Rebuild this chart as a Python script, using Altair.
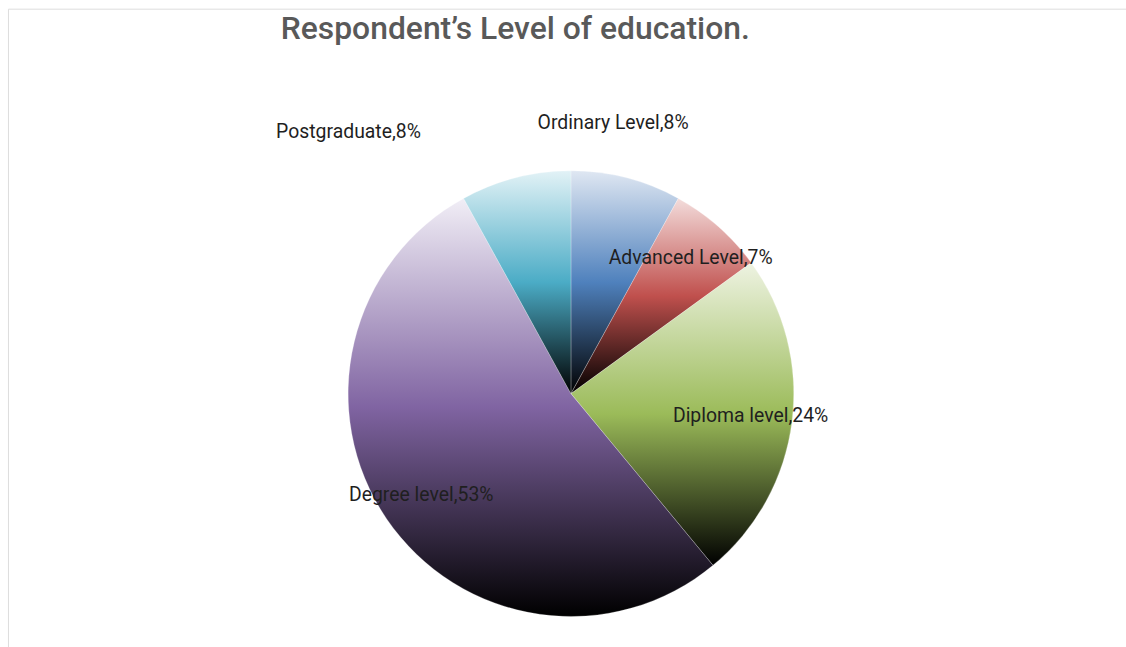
import altair as alt
import pandas as pd

categories = ["Ordinary Level", "Advanced Level", "Diploma level", "Degree level", "Postgraduate"]
values = [8, 7, 24, 53, 8]
order = [1, 2, 3, 4, 5]
base_colors = ["#4f81bd", "#c0504d", "#9bbb59", "#8064a2", "#4bacc6"]
light_colors = ["#dfe7f2", "#f3dcdb", "#eef3e2", "#f1eef6", "#e2f2f6"]

df = pd.DataFrame({"category": categories, "value": values, "order": order})
df["label"] = [f"{c},{v}%" for c, v in zip(categories, values)]

CX, CY = 566, 387  # pie centre inside the view
R = 224

base = (
    alt.Chart(df)
    .transform_joinaggregate(total="sum(value)")
    .transform_window(cum="sum(value)", sort=[alt.SortField("order")])
    .transform_calculate(
        start="(datum.cum - datum.value) / datum.total * 2 * PI",
        end="datum.cum / datum.total * 2 * PI",
        mid="(datum.cum - datum.value / 2) / datum.total * 2 * PI",
    )
)

layers = []
for cat, bc, lc in zip(categories, base_colors, light_colors):
    grad = alt.Gradient(
        gradient="linear", x1=0, x2=0, y1=0, y2=1,
        stops=[
            alt.GradientStop(color=lc, offset=0),
            alt.GradientStop(color=bc, offset=0.5),
            alt.GradientStop(color="#000000", offset=1),
        ],
    )
    layers.append(
        base.transform_filter(alt.datum.category == cat)
        .mark_arc(radius=R, color=grad, stroke="#ffffff", strokeWidth=0.4, strokeOpacity=0.6)
        .encode(
            theta=alt.Theta("start:Q", scale=None),
            theta2="end:Q",
            x=alt.value(CX),
            y=alt.value(CY),
        )
    )

text_style = dict(font="Roboto", fontSize=19.5, color="#1f1f1f", align="center", baseline="middle")

inner = base.transform_filter(
    alt.FieldOneOfPredicate(field="category", oneOf=["Advanced Level", "Diploma level", "Degree level"])
).mark_text(radius=182, **text_style).encode(
    theta=alt.Theta("mid:Q", scale=None), text="label:N", x=alt.value(CX), y=alt.value(CY)
)

ordinary = base.transform_filter(alt.datum.category == "Ordinary Level").mark_text(
    radius=275, dx=-26, dy=-6, **text_style
).encode(theta=alt.Theta("mid:Q", scale=None), text="label:N", x=alt.value(CX), y=alt.value(CY))

postgrad = base.transform_filter(alt.datum.category == "Postgraduate").mark_text(
    radius=272, dx=-156, dy=0, **text_style
).encode(theta=alt.Theta("mid:Q", scale=None), text="label:N", x=alt.value(CX), y=alt.value(CY))

chart = (
    alt.layer(*layers, inner, ordinary, postgrad)
    .properties(
        width=1124,
        height=646,
        autosize=alt.AutoSizeParams(type="none"),
        padding={"left": 8, "top": 7, "right": 0, "bottom": 0},
        title=alt.TitleParams(
            "Respondent\u2019s Level of education.",
            font="Roboto", fontSize=32, fontWeight=500, color="#595959",
            anchor="middle", dx=-52, dy=41,
        ),
    )
    .configure_view(stroke="#e2e2e2", strokeWidth=1.5)
    .configure(background="#ffffff")
)

chart.save("out.html", embed_options={"renderer": "svg", "actions": False})
